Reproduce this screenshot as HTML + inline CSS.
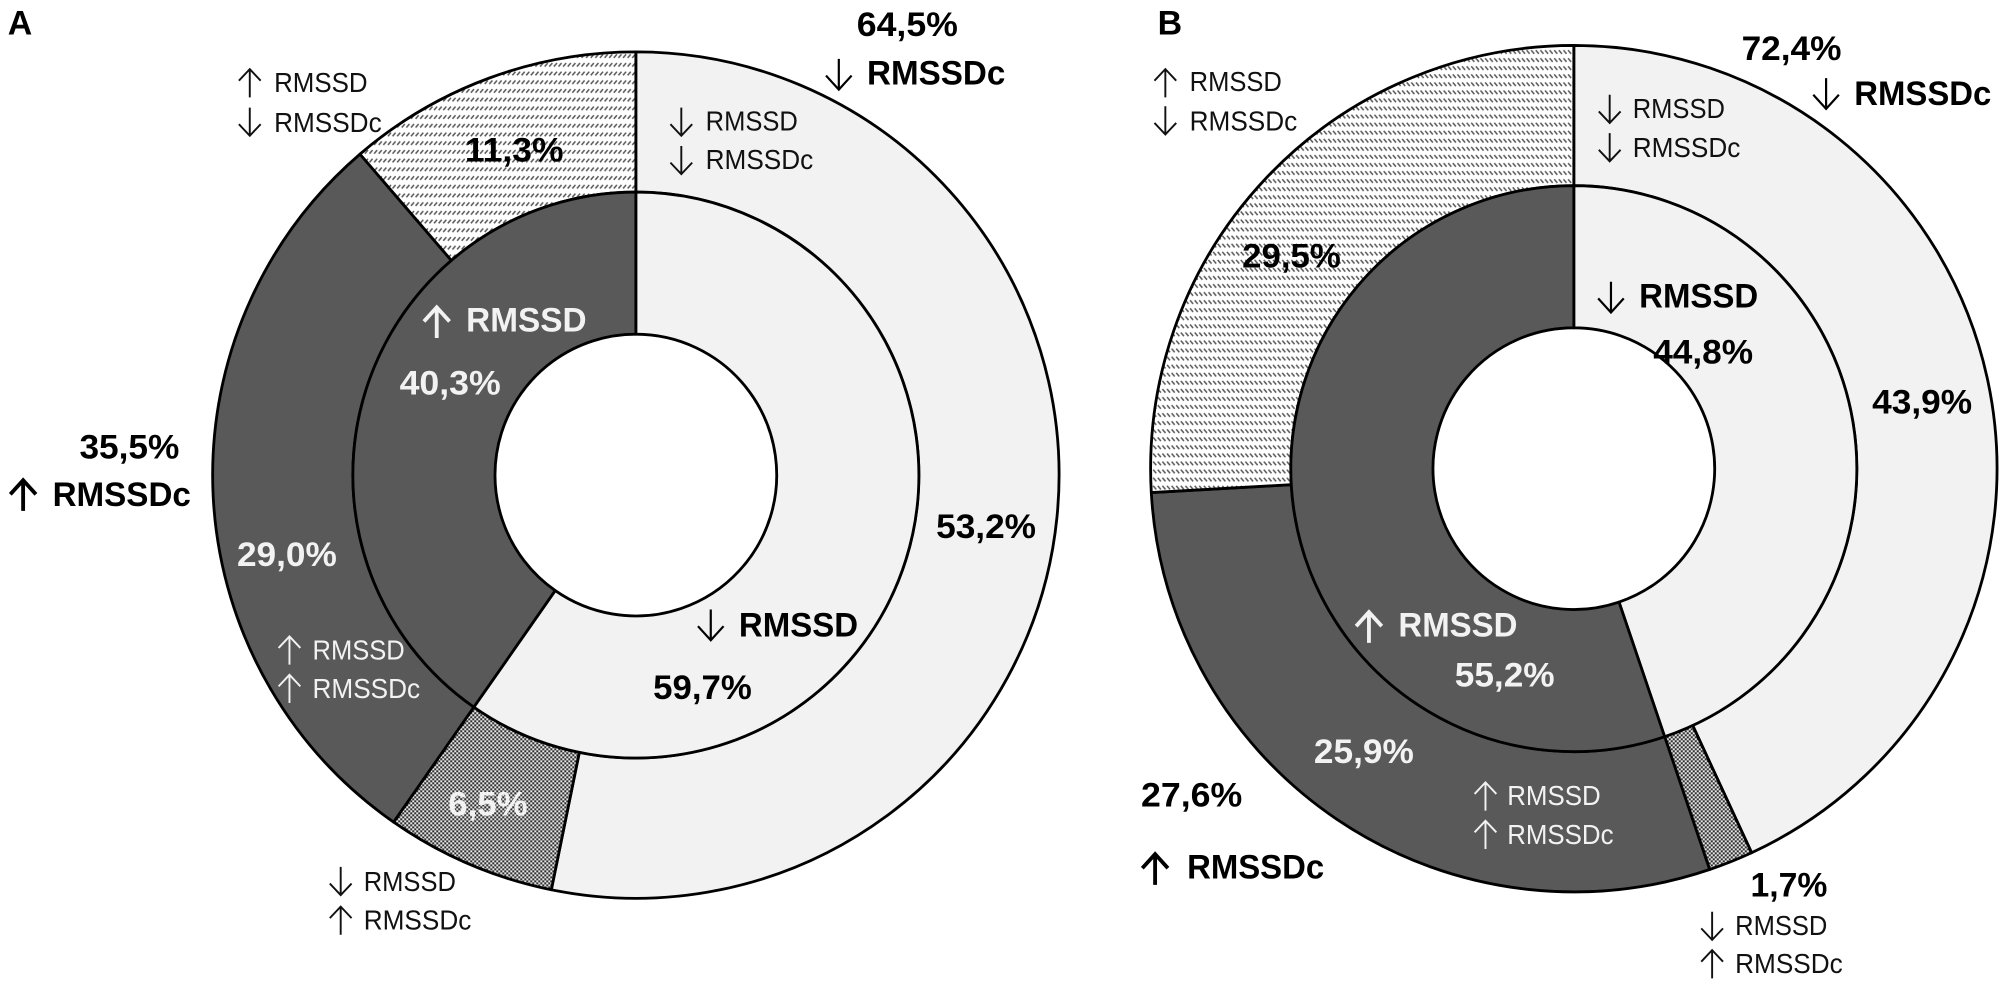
<!DOCTYPE html>
<html lang="en">
<head>
<meta charset="utf-8">
<title>RMSSD and RMSSDc donut charts</title>
<style>
html,body{margin:0;padding:0;background:#fff;width:2008px;height:986px;overflow:hidden}
svg{display:block}
text{font-family:"Liberation Sans",sans-serif}
.b{font-weight:700;font-size:26.5px;fill:#000}
.bw{font-weight:700;font-size:26.5px;fill:#f2f2f2}
.t{font-size:22px;fill:#111}
.tw{font-size:22px;fill:#f2f2f2}
.ab{stroke:#000;stroke-width:3;fill:none}
.abd{stroke:#000;stroke-width:1.7;fill:none}
.abw{stroke:#f2f2f2;stroke-width:3;fill:none}
.at{stroke:#111;stroke-width:1.5;fill:none}
.atw{stroke:#f2f2f2;stroke-width:1.5;fill:none}
</style>
</head>
<body>
<svg xmlns="http://www.w3.org/2000/svg" width="2008" height="986" viewBox="0 0 1568 770">
<defs>
<pattern id="hatch-a" patternUnits="userSpaceOnUse" width="3.6" height="6.8">
<rect width="3.6" height="6.8" fill="#fff"/>
<path d="M0.5 4.4L2.9 1.6" stroke="#5a5a5a" stroke-width="1.2"/>
</pattern>
<pattern id="hatch-b" patternUnits="userSpaceOnUse" width="3.6" height="6.3">
<rect width="3.6" height="6.3" fill="#fff"/>
<path d="M0.5 1.4L2.9 4.2" stroke="#5a5a5a" stroke-width="1.2"/>
</pattern>
<pattern id="check" patternUnits="userSpaceOnUse" width="3.125" height="3.125">
<rect width="3.125" height="3.125" fill="#2e2e2e"/>
<rect width="1.5625" height="1.5625" fill="#e8e8e8"/>
<rect x="1.5625" y="1.5625" width="1.5625" height="1.5625" fill="#e8e8e8"/>
</pattern>
<g id="dn-b"><path d="M0 -24V0M-10 -11L0 0L10 -11"/></g>
<g id="up-b"><path d="M0 24V0M-10 11L0 0L10 11"/></g>
<g id="dn-t"><path d="M0 -22V0M-8.5 -9L0 0L8.5 -9"/></g>
<g id="up-t"><path d="M0 22V0M-8.5 9L0 0L8.5 9"/></g>
</defs>

<g id="panel-a-rings"></g>
<g id="panel-b-rings"></g>

<g>
<text class="b" x="6" y="27">A</text>
<text class="b" x="669" y="28" textLength="79" lengthAdjust="spacingAndGlyphs">64,5%</text>
<use href="#dn-b" x="655" y="70" class="abd"/>
<text class="b" x="677" y="66" textLength="108" lengthAdjust="spacingAndGlyphs">RMSSDc</text>

<use href="#up-t" x="195" y="54" class="at"/>
<text class="t" x="214" y="72" textLength="73" lengthAdjust="spacingAndGlyphs">RMSSD</text>
<use href="#dn-t" x="195" y="106" class="at"/>
<text class="t" x="214" y="103" textLength="84" lengthAdjust="spacingAndGlyphs">RMSSDc</text>

<use href="#dn-t" x="532" y="106" class="at"/>
<text class="t" x="551" y="102" textLength="72" lengthAdjust="spacingAndGlyphs">RMSSD</text>
<use href="#dn-t" x="532" y="136" class="at"/>
<text class="t" x="551" y="132" textLength="84" lengthAdjust="spacingAndGlyphs">RMSSDc</text>

<text class="b" x="363" y="126" textLength="77" lengthAdjust="spacingAndGlyphs">11,3%</text>

<use href="#up-b" x="341" y="240" class="abw"/>
<text class="bw" x="364" y="259" textLength="94" lengthAdjust="spacingAndGlyphs">RMSSD</text>
<text class="bw" x="312" y="308" textLength="79" lengthAdjust="spacingAndGlyphs">40,3%</text>

<text class="b" x="62" y="358" textLength="78" lengthAdjust="spacingAndGlyphs">35,5%</text>
<use href="#up-b" x="18" y="375" class="ab"/>
<text class="b" x="41" y="395" textLength="108" lengthAdjust="spacingAndGlyphs">RMSSDc</text>

<text class="bw" x="185" y="442" textLength="78" lengthAdjust="spacingAndGlyphs">29,0%</text>
<use href="#up-t" x="226" y="497" class="atw"/>
<text class="tw" x="244" y="515" textLength="72" lengthAdjust="spacingAndGlyphs">RMSSD</text>
<use href="#up-t" x="226" y="527" class="atw"/>
<text class="tw" x="244" y="545" textLength="84" lengthAdjust="spacingAndGlyphs">RMSSDc</text>

<text class="b" x="731" y="420" textLength="78" lengthAdjust="spacingAndGlyphs">53,2%</text>
<use href="#dn-b" x="555" y="500" class="abd"/>
<text class="b" x="577" y="497" textLength="93" lengthAdjust="spacingAndGlyphs">RMSSD</text>
<text class="b" x="510" y="546" textLength="77" lengthAdjust="spacingAndGlyphs">59,7%</text>

<text class="bw" x="350" y="637" textLength="62" lengthAdjust="spacingAndGlyphs">6,5%</text>
<use href="#dn-t" x="266" y="699" class="at"/>
<text class="t" x="284" y="696" textLength="72" lengthAdjust="spacingAndGlyphs">RMSSD</text>
<use href="#up-t" x="266" y="708" class="at"/>
<text class="t" x="284" y="726" textLength="84" lengthAdjust="spacingAndGlyphs">RMSSDc</text>
</g>

<g>
<text class="b" x="904" y="27">B</text>
<text class="b" x="1360" y="47" textLength="78" lengthAdjust="spacingAndGlyphs">72,4%</text>
<use href="#dn-b" x="1426" y="85" class="abd"/>
<text class="b" x="1448" y="82" textLength="107" lengthAdjust="spacingAndGlyphs">RMSSDc</text>

<use href="#up-t" x="910" y="54" class="at"/>
<text class="t" x="929" y="71" textLength="72" lengthAdjust="spacingAndGlyphs">RMSSD</text>
<use href="#dn-t" x="910" y="105" class="at"/>
<text class="t" x="929" y="102" textLength="84" lengthAdjust="spacingAndGlyphs">RMSSDc</text>

<use href="#dn-t" x="1257" y="96" class="at"/>
<text class="t" x="1275" y="92" textLength="72" lengthAdjust="spacingAndGlyphs">RMSSD</text>
<use href="#dn-t" x="1257" y="126" class="at"/>
<text class="t" x="1275" y="122.5" textLength="84" lengthAdjust="spacingAndGlyphs">RMSSDc</text>

<text class="b" x="970" y="209" textLength="77" lengthAdjust="spacingAndGlyphs">29,5%</text>

<use href="#dn-b" x="1258" y="244" class="abd"/>
<text class="b" x="1280" y="240" textLength="93" lengthAdjust="spacingAndGlyphs">RMSSD</text>
<text class="b" x="1291" y="284" textLength="78" lengthAdjust="spacingAndGlyphs">44,8%</text>
<text class="b" x="1462" y="323" textLength="78" lengthAdjust="spacingAndGlyphs">43,9%</text>

<use href="#up-b" x="1069" y="478" class="abw"/>
<text class="bw" x="1092" y="497" textLength="93" lengthAdjust="spacingAndGlyphs">RMSSD</text>
<text class="bw" x="1136" y="536" textLength="78" lengthAdjust="spacingAndGlyphs">55,2%</text>
<text class="bw" x="1026" y="596" textLength="78" lengthAdjust="spacingAndGlyphs">25,9%</text>

<text class="b" x="891" y="630" textLength="79" lengthAdjust="spacingAndGlyphs">27,6%</text>
<use href="#up-b" x="902" y="667" class="ab"/>
<text class="b" x="927" y="686" textLength="107" lengthAdjust="spacingAndGlyphs">RMSSDc</text>

<use href="#up-t" x="1160" y="611" class="atw"/>
<text class="tw" x="1177" y="628.5" textLength="73" lengthAdjust="spacingAndGlyphs">RMSSD</text>
<use href="#up-t" x="1160" y="641" class="atw"/>
<text class="tw" x="1177" y="659" textLength="83" lengthAdjust="spacingAndGlyphs">RMSSDc</text>

<text class="b" x="1367" y="700" textLength="60" lengthAdjust="spacingAndGlyphs">1,7%</text>
<use href="#dn-t" x="1337" y="734" class="at"/>
<text class="t" x="1355" y="730" textLength="72" lengthAdjust="spacingAndGlyphs">RMSSD</text>
<use href="#up-t" x="1337" y="742" class="at"/>
<text class="t" x="1355" y="760" textLength="84" lengthAdjust="spacingAndGlyphs">RMSSDc</text>
</g>
</svg>

<script>
// Ring categories, clockwise from 12 o'clock
var outerCategories = ['down-down', 'down-up', 'up-up', 'up-down'];
var innerCategories = ['down', 'up'];

// Slice shares as drawn in the picture (%)
var panelAOuterValues = [53.2, 6.5, 29.0, 11.3];
var panelAInnerValues = [59.7, 40.3];
var panelBOuterValues = [43.1, 1.7, 29.3, 25.9];
var panelBInnerValues = [44.8, 55.2];

var SVG_NS = 'http://www.w3.org/2000/svg';

function categoryFill(category, hatchId) {
  if (category === 'down-down' || category === 'down') return '#f2f2f2';
  if (category === 'up-up' || category === 'up') return '#595959';
  if (category === 'up-down') return 'url(#' + hatchId + ')';
  return 'url(#check)';
}

function polar(cx, cy, r, frac) {
  var a = frac * 2 * Math.PI;
  return [cx + r * Math.sin(a), cy - r * Math.cos(a)];
}

function slicePath(cx, cy, r0, r1, f0, f1) {
  var large = (f1 - f0) > 0.5 ? 1 : 0;
  var p0 = polar(cx, cy, r1, f0);
  var p1 = polar(cx, cy, r1, f1);
  var p2 = polar(cx, cy, r0, f1);
  var p3 = polar(cx, cy, r0, f0);
  return 'M' + p0[0] + ' ' + p0[1] +
    'A' + r1 + ' ' + r1 + ' 0 ' + large + ' 1 ' + p1[0] + ' ' + p1[1] +
    'L' + p2[0] + ' ' + p2[1] +
    'A' + r0 + ' ' + r0 + ' 0 ' + large + ' 0 ' + p3[0] + ' ' + p3[1] + 'Z';
}

function drawRing(group, prefix, cx, cy, r0, r1, values, categories, hatchId) {
  var total = values.reduce(function (s, v) { return s + v; }, 0);
  var acc = 0;
  values.forEach(function (v, i) {
    var f0 = acc / total;
    acc += v;
    var f1 = acc / total;
    var el = document.createElementNS(SVG_NS, 'path');
    el.setAttribute('d', slicePath(cx, cy, r0, r1, f0, f1));
    el.setAttribute('fill', categoryFill(categories[i], hatchId));
    el.setAttribute('stroke', '#000');
    el.setAttribute('stroke-width', '2.2');
    el.setAttribute('stroke-linejoin', 'round');
    
    
    group.appendChild(el);
  });
}

var gA = document.getElementById('panel-a-rings');
drawRing(gA, 'panel-a-outer', 496.5, 371, 221, 330.5, panelAOuterValues, outerCategories, 'hatch-a');
drawRing(gA, 'panel-a-inner', 496.5, 371, 110, 221, panelAInnerValues, innerCategories, 'hatch-a');

var gB = document.getElementById('panel-b-rings');
drawRing(gB, 'panel-b-outer', 1229, 366, 221, 330.5, panelBOuterValues, outerCategories, 'hatch-b');
drawRing(gB, 'panel-b-inner', 1229, 366, 110, 221, panelBInnerValues, innerCategories, 'hatch-b');
</script>
</body>
</html>
